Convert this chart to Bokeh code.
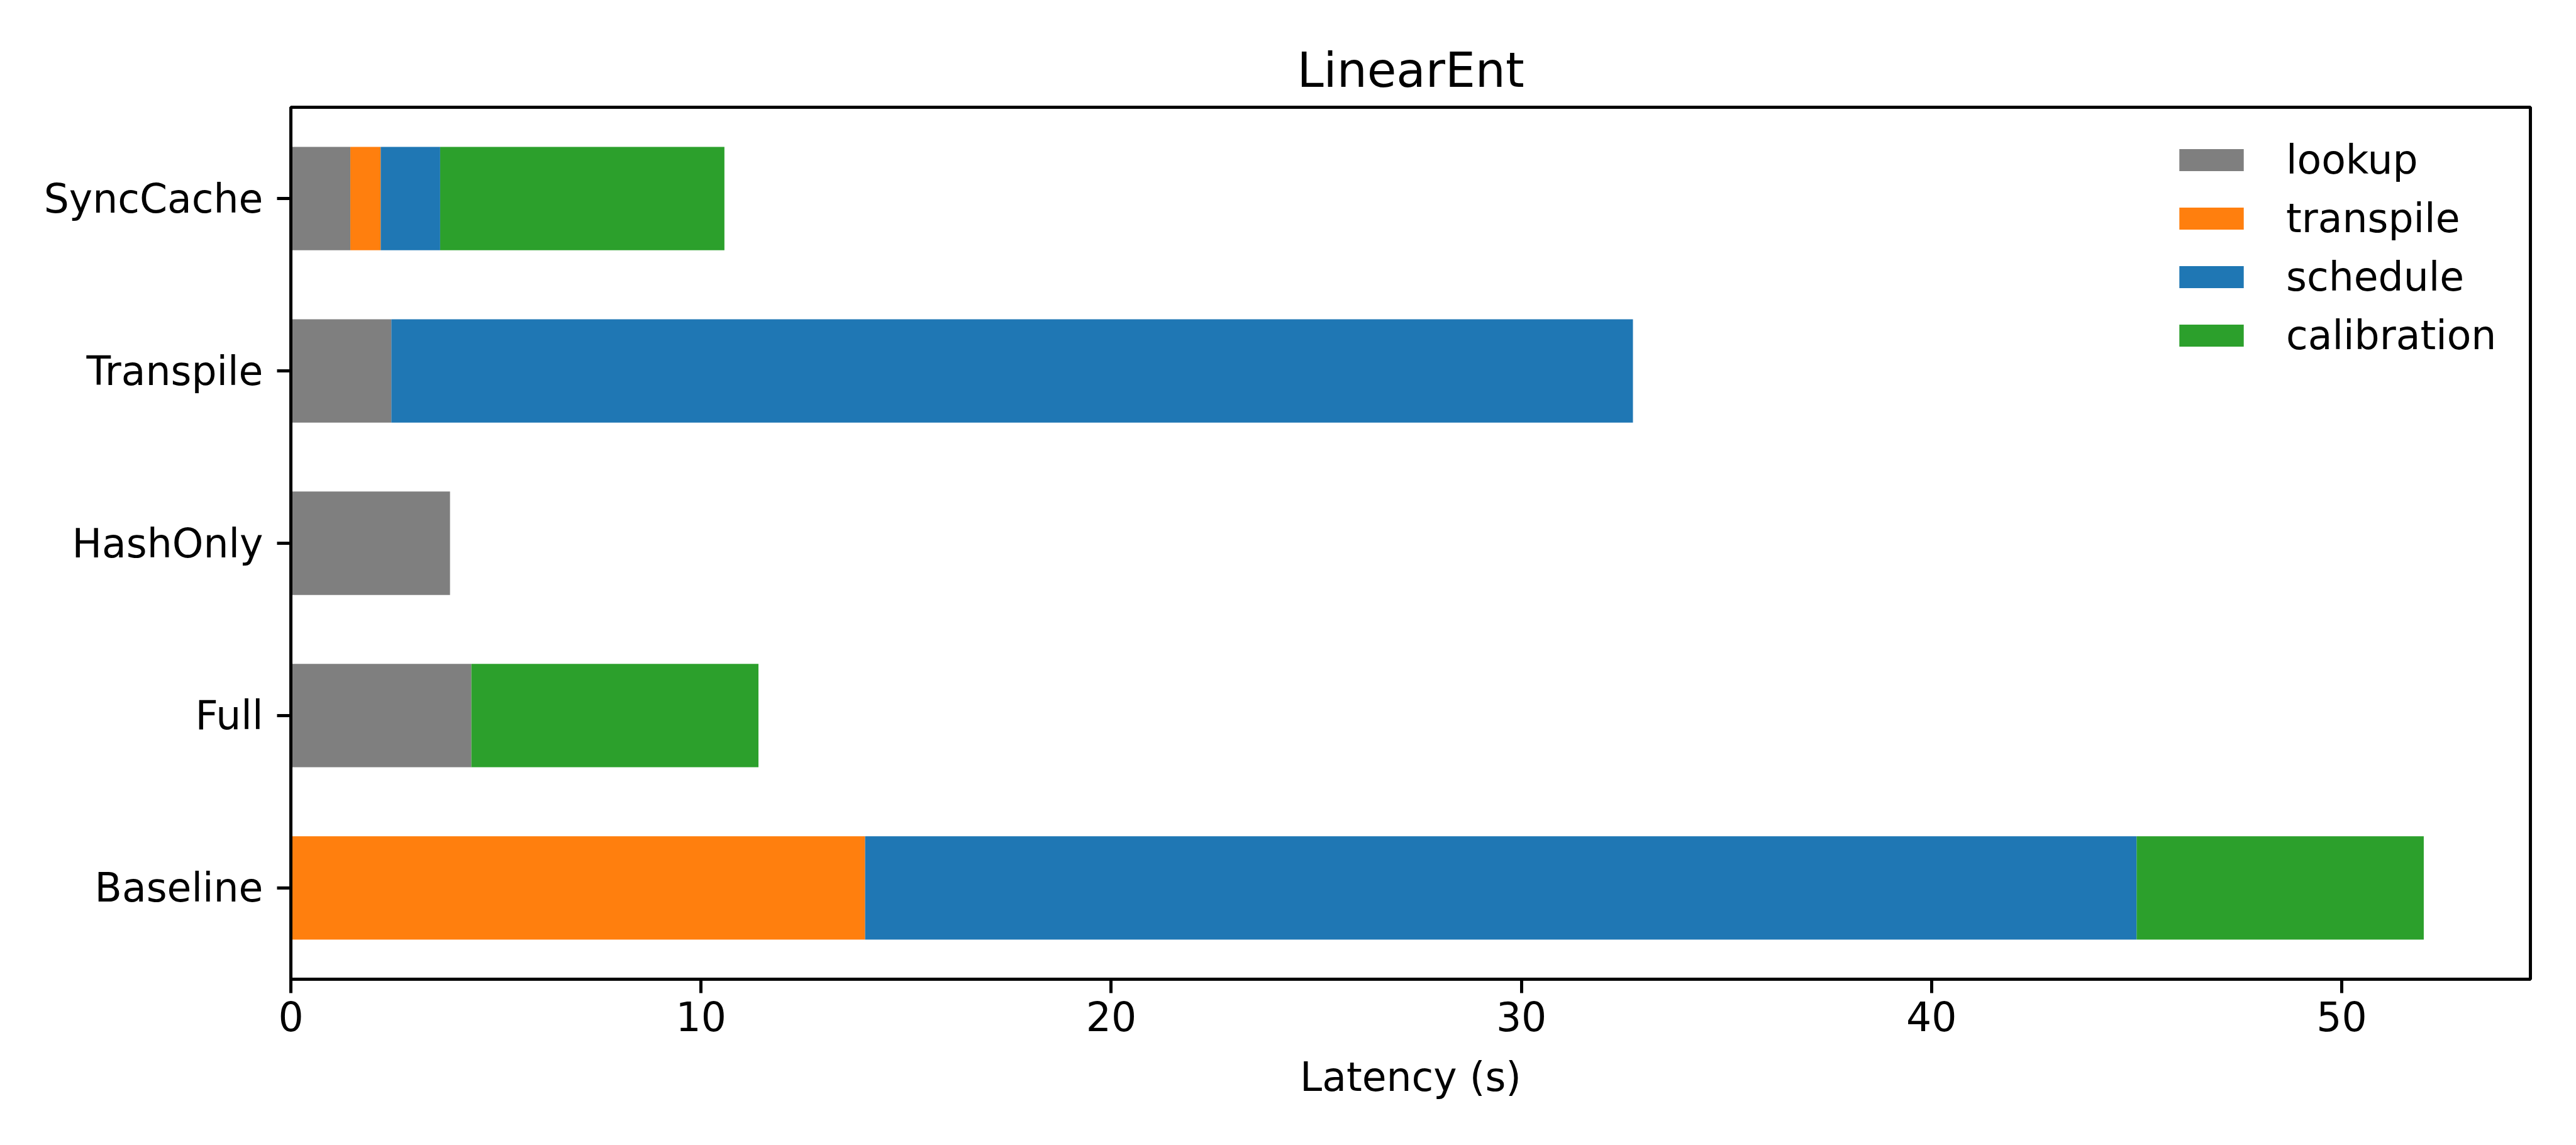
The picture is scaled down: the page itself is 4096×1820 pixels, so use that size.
from bokeh.plotting import figure
from bokeh.models import ColumnDataSource, Range1d, FixedTicker, Legend, LegendItem
from bokeh.embed import file_html
from bokeh.resources import INLINE

# ---- data ----
categories = ["Baseline", "Full", "HashOnly", "Transpile", "SyncCache"]
stages = ["lookup", "transpile", "schedule", "calibration"]
lookup = [0.0, 4.4, 3.88, 2.45, 1.45]
transpile = [14.0, 0.0, 0.0, 0.0, 0.74]
schedule = [31.0, 0.0, 0.0, 30.27, 1.45]
calibration = [7.0, 7.0, 0.0, 0.0, 6.93]
colors = ["#7f7f7f", "#ff7f0e", "#1f77b4", "#2ca02c"]
x_ticks = [0, 10, 20, 30, 40, 50]
title_text = "LinearEnt"
x_label = "Latency (s)"

FONT = "DejaVu Sans"

source = ColumnDataSource(data=dict(
    y=list(range(len(categories))),
    lookup=lookup, transpile=transpile, schedule=schedule, calibration=calibration,
))

p = figure(width=4096, height=1820, output_backend="svg", toolbar_location=None,
           x_range=Range1d(0, 54.6), y_range=Range1d(-0.53, 4.53),
           min_border_left=462, min_border_right=73, min_border_top=170, min_border_bottom=264)

renderers = p.hbar_stack(stages, y="y", height=0.6, color=colors, line_alpha=0, source=source)

# title
p.title.text = title_text
p.title.text_font = FONT
p.title.text_font_size = "75.8px"
p.title.text_font_style = "normal"
p.title.align = "center"
p.title.standoff = 30
p.title.text_color = "black"

# grid / outline
p.xgrid.visible = False
p.ygrid.visible = False
p.outline_line_color = "black"
p.outline_line_width = 5
p.outline_line_alpha = 1
p.background_fill_color = "white"
p.border_fill_color = "white"

# axes
for ax in (p.xaxis[0], p.yaxis[0]):
    ax.axis_line_width = 5
    ax.axis_line_color = "black"
    ax.major_tick_line_width = 5
    ax.major_tick_line_color = "black"
    ax.major_tick_out = 22
    ax.major_tick_in = 0
    ax.minor_tick_out = 0
    ax.minor_tick_in = 0
    ax.major_label_text_font = FONT
    ax.major_label_text_font_size = "63.2px"
    ax.major_label_text_color = "black"

p.xaxis.ticker = FixedTicker(ticks=x_ticks)
p.xaxis.major_label_standoff = 13
p.xaxis.axis_label = x_label
p.xaxis.axis_label_text_font = FONT
p.xaxis.axis_label_text_font_size = "63.2px"
p.xaxis.axis_label_text_font_style = "normal"
p.xaxis.axis_label_text_color = "black"
p.xaxis.axis_label_standoff = 33

p.yaxis.ticker = FixedTicker(ticks=list(range(len(categories))))
p.yaxis.major_label_overrides = {i: c for i, c in enumerate(categories)}
p.yaxis.major_label_standoff = 22

# legend
items = [LegendItem(label=s, renderers=[r]) for s, r in zip(stages, renderers)]
legend = Legend(items=items, location=(2990, 986),
                glyph_width=128, glyph_height=44, label_standoff=55,
                label_text_font=FONT, label_text_font_size="63.2px",
                label_text_color="black", label_text_baseline="middle",
                spacing=19, padding=0, margin=0,
                border_line_alpha=0, background_fill_alpha=0)
p.add_layout(legend)

open("out.html", "w").write(file_html(p, INLINE))
